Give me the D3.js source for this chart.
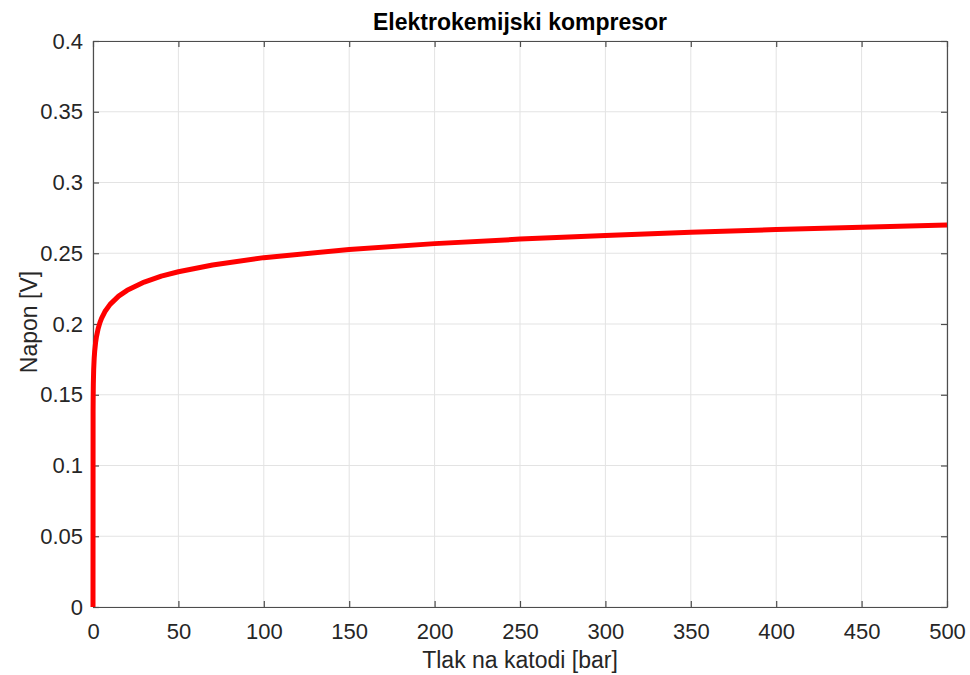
<!DOCTYPE html>
<html><head><meta charset="utf-8">
<script src="https://cdn.jsdelivr.net/npm/d3@7"></script>
<style>body{margin:0;background:#fff}svg{display:block}text{font-family:"Liberation Sans",Arial,sans-serif}</style>
</head><body>
<svg id="c" width="970" height="675"></svg>
<script>
const pressure = [0, 0.05, 0.1, 0.2, 0.4, 0.7, 1, 1.5, 2, 3, 4, 5, 7, 10, 15, 20, 30, 40, 50, 70, 100, 150, 200, 250, 300, 350, 400, 450, 500];
const voltage  = [0, 0.138, 0.148, 0.158, 0.168, 0.176, 0.181, 0.1868, 0.1909, 0.1967, 0.2008, 0.2040, 0.2088, 0.2139, 0.2197, 0.2238, 0.2296, 0.2338, 0.2369, 0.2417, 0.2469, 0.2527, 0.2568, 0.2600, 0.2626, 0.2648, 0.2667, 0.2684, 0.2699];
const xTicks = [0, 50, 100, 150, 200, 250, 300, 350, 400, 450, 500];
const yTicks = [0, 0.05, 0.1, 0.15, 0.2, 0.25, 0.3, 0.35, 0.4];
const titleText = "Elektrokemijski kompresor";
const xLabel = "Tlak na katodi [bar]";
const yLabel = "Napon [V]";

const svg = d3.select("#c");
const L = 93, R = 947, T = 41, B = 607;
const x = d3.scaleLinear().domain([0, 500]).range([L, R]);
const y = d3.scaleLinear().domain([0, 0.4]).range([B, T]);
const axisCol = "#4d4d4d";

// grid
svg.append("g").selectAll("line").data(xTicks).join("line")
  .attr("x1", d => x(d)).attr("x2", d => x(d)).attr("y1", T).attr("y2", B)
  .attr("stroke", "#e3e3e3").attr("stroke-width", 1);
svg.append("g").selectAll("line").data(yTicks).join("line")
  .attr("y1", d => y(d)).attr("y2", d => y(d)).attr("x1", L).attr("x2", R)
  .attr("stroke", "#e3e3e3").attr("stroke-width", 1);

// axes
const fmtY = d => d3.format("")(+d.toFixed(2));
const gx = svg.append("g").attr("transform", `translate(0,${B})`)
  .call(d3.axisBottom(x).tickValues(xTicks).tickSizeInner(-6).tickSizeOuter(0).tickPadding(16));
const gxt = svg.append("g").attr("transform", `translate(0,${T})`)
  .call(d3.axisTop(x).tickValues(xTicks).tickSizeInner(-6).tickSizeOuter(0).tickFormat(""));
const gy = svg.append("g").attr("transform", `translate(${L},0)`)
  .call(d3.axisLeft(y).tickValues(yTicks).tickSizeInner(-6).tickSizeOuter(0).tickPadding(10).tickFormat(fmtY));
const gyr = svg.append("g").attr("transform", `translate(${R},0)`)
  .call(d3.axisRight(y).tickValues(yTicks).tickSizeInner(-6).tickSizeOuter(0).tickFormat(""));
[gx, gxt, gy, gyr].forEach(g => {
  g.select(".domain").attr("stroke", axisCol).attr("stroke-width", 1.2);
  g.selectAll(".tick line").attr("stroke", axisCol).attr("stroke-width", 1.2);
  g.selectAll(".tick text").attr("fill", "#262626").attr("font-size", 22)
    .attr("font-family", "'Liberation Sans', Arial, sans-serif");
});

// line
const line = d3.line().x((d, i) => x(pressure[i])).y(d => y(d));
svg.append("path").datum(voltage).attr("d", line)
  .attr("fill", "none").attr("stroke", "#ff0000").attr("stroke-width", 5)
  .attr("stroke-linejoin", "round");

// texts
svg.append("text").attr("x", (L + R) / 2).attr("y", 30).attr("text-anchor", "middle")
  .attr("font-size", 23).attr("font-weight", "bold").attr("fill", "#000").text(titleText);
svg.append("text").attr("x", (L + R) / 2).attr("y", 668).attr("text-anchor", "middle")
  .attr("font-size", 23).attr("fill", "#262626").text(xLabel);
svg.append("text").attr("transform", `translate(37,${(T + B) / 2 - 2}) rotate(-90)`)
  .attr("text-anchor", "middle").attr("font-size", 23).attr("fill", "#262626").text(yLabel);
</script>
</body></html>
